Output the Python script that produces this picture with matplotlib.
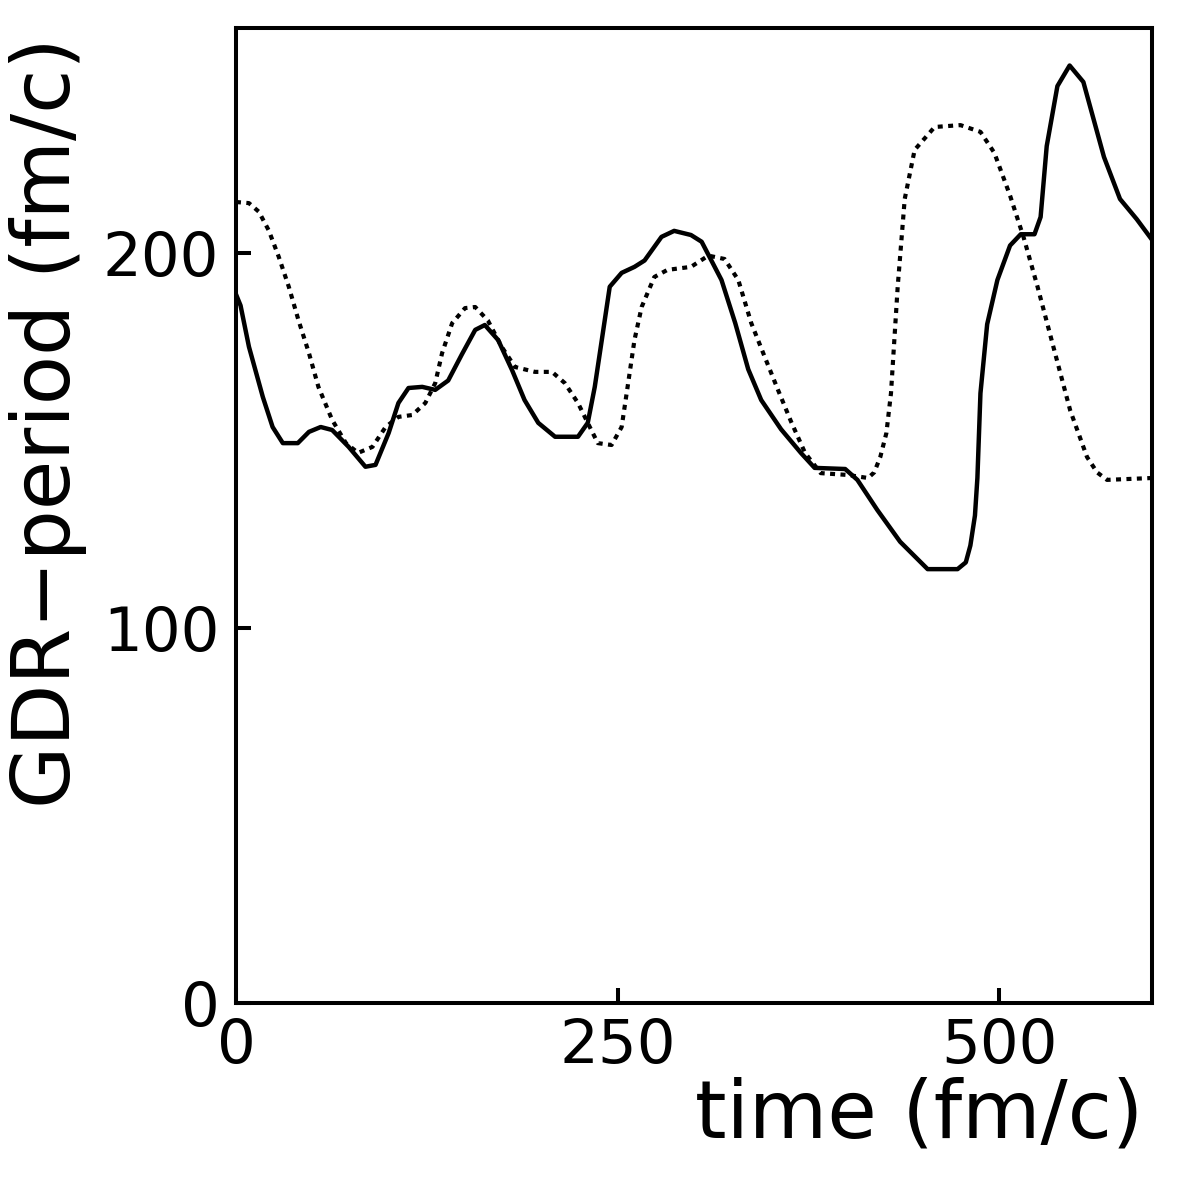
import matplotlib
matplotlib.use("Agg")
import matplotlib.pyplot as plt

# solid curve
t_solid = [0, 3, 8.5, 17.6, 24, 30.7, 40.5, 47.8, 55.5, 63, 73.8, 84.8, 91.4,
           100, 106.4, 113, 122, 130.5, 139, 148, 156.7, 163, 171.7, 180.8,
           189, 198, 209, 224, 230.4, 235, 239.6, 244.8, 252.6, 261, 267.6,
           278.7, 287, 298, 305, 318, 327, 335.5, 344, 357, 370, 379, 399,
           407, 420, 435, 453, 472.6, 478, 481, 484, 485.6, 487.6, 492, 498.7,
           507, 514, 523, 527, 531, 538, 546, 555, 568.5, 579, 590, 600]
p_solid = [189, 186, 175, 161.6, 153.6, 149.3, 149.3, 152.3, 153.6, 152.8,
           148.3, 143, 143.5, 152, 160, 164, 164.3, 163.5, 166, 173, 179.5,
           180.8, 176.8, 168.8, 160.8, 154.7, 151, 151, 154.7, 164.3, 176.8,
           191, 194.7, 196.3, 198, 204.3, 205.9, 204.8, 203, 192.8, 181.3,
           169, 160.8, 153, 146.7, 142.7, 142.4, 139.5, 131.5, 123, 115.7,
           115.7, 117.5, 122, 130, 140, 162.6, 181, 192.8, 202, 205, 205,
           209.6, 228.5, 244.5, 250, 245.6, 225.6, 214.4, 209, 203.5]

# dashed curve
t_dash = [0, 8.5, 15, 21.5, 28, 34.6, 41, 47.8, 54, 63, 72, 80, 89.4, 98,
          106.4, 115.5, 124, 130.5, 135, 141.6, 150, 156.7, 165, 174, 182.8,
          195.8, 207, 215.4, 224, 230.4, 237, 246, 252.6, 256.5, 261, 265.7,
          274, 282.6, 298, 309.4, 320, 329, 337.5, 346.6, 355, 363.6, 372.7,
          383, 401, 414, 418, 422, 426, 429, 433.4, 438, 444.5, 457.6, 474.5,
          487.6, 496.7, 507, 516, 525, 536, 546.4, 557.4, 564, 570.5, 600]
p_dash = [213.6, 213.3, 211, 206, 199, 191, 182, 173.3, 164.3, 155.5, 149.3,
          146.7, 148.3, 153.6, 156.3, 156.8, 160, 165.3, 173.3, 181.3, 185.3,
          185.6, 182, 175, 169.6, 168.3, 168.3, 165.3, 160, 154.7, 149.3,
          148.8, 153.6, 164.3, 176.8, 185.6, 193.6, 195.5, 196.3, 199.3,
          198.4, 192.8, 181.3, 172, 163.5, 155, 146.7, 141.3, 140.8, 140,
          141.5, 145.6, 152, 162.6, 191, 214.4, 227.5, 233.6, 234.1, 232.3,
          226.7, 215.3, 204, 191, 174, 158, 145.6, 141.5, 139.5, 140]

x_ticks = [0, 250, 500]
y_ticks = [0, 100, 200]

plt.rcParams['font.family'] = ['DejaVu Sans']

fig = plt.figure(figsize=(11.81, 11.81), dpi=100)
ax = fig.add_axes([0.1998, 0.1507, 0.7757, 0.8256])

ax.plot(t_solid, p_solid, color='black', lw=3.2, solid_joinstyle='round')
ax.plot(t_dash, p_dash, color='black', lw=3.0, linestyle=(0, (1.2, 1.3)))

ax.set_xlim(0, 600)
ax.set_ylim(0, 260)
ax.set_xticks(x_ticks)
ax.set_yticks(y_ticks)
ax.tick_params(direction='in', length=11, width=2.9, labelsize=44,
               top=False, right=False)
ax.tick_params(axis='x', pad=10)
ax.tick_params(axis='y', pad=12)
for s in ax.spines.values():
    s.set_linewidth(2.9)

ax.set_xlabel('time (fm/c)', fontsize=58)
ax.xaxis.set_label_coords(0.99, -0.075)
ax.xaxis.label.set_horizontalalignment('right')
ax.set_ylabel('GDR\u2212period (fm/c)', fontsize=58)
ax.yaxis.set_label_coords(-0.205, 0.99)
ax.yaxis.label.set_verticalalignment('center')
ax.yaxis.label.set_horizontalalignment('right')

fig.savefig('out.png', dpi=100)
